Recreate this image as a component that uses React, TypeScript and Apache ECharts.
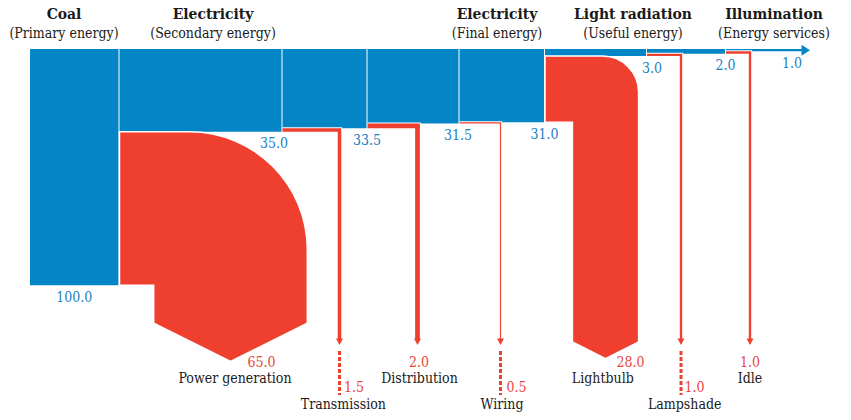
import React, { useEffect, useRef } from 'react';
import * as echarts from 'echarts';

// ---- data ----
const stageTitles = ['Coal', 'Electricity', 'Electricity', 'Light radiation', 'Illumination'];
const stageSubtitles = ['(Primary energy)', '(Secondary energy)', '(Final energy)', '(Useful energy)', '(Energy services)'];
const remaining = [100, 35, 33.5, 31.5, 31, 3, 2, 1];
const lossNames = ['Power generation', 'Transmission', 'Distribution', 'Wiring', 'Lightbulb', 'Lampshade', 'Idle'];
const lossValues = [65, 1.5, 2, 0.5, 28, 1, 1];

// ---- layout (x axis = horizontal layout units, y axis = energy units) ----
const W = 851;
const H = 420;
const Y_MAX = 157;
const bounds = [30, 119, 282, 367, 459, 544.5, 646.5, 725.5, 803];
const blueLabelDx = [0, -8, 0, -1, 0, 5.5, 0, -11];
const lossCenters = [230.5, 339.5, 417.5, 500.5, 605.5, 681, 750];
const lossCornerRadius = [118, 0, 0, 0, 36, 0, 0];
const lossShapeEnd = [116, 0, 0, 0, 124, 0, 0];
const lossRow = [0, 1, 0, 1, 0, 1, 0];
const lossValueDx = [31, 14.5, 1.5, 16, 25, 13.5, 0];
const lossNameDx = [4.5, 3.8, 2, 1.5, -2.7, 3.7, 0];
const headerX = [64, 213, 497, 633, 774];
const ARROW_TIP_V = 125.3;
const DASH_TOP_V = 127.8;
const DASH_BOTTOM_V = 146.4;
const ROW_VALUE_V = [132.6, 143.1];
const ROW_NAME_V = [139.3, 150.3];

const BLUE = '#0385C6';
const RED = '#EF3F2E';
const BLUE_TEXT = '#1C80C3';
const RED_TEXT = '#E9453B';
const BLACK_TEXT = '#1a1a1a';
const FONT = 'DejaVu Serif Condensed';

function txt(x: number, y: number, text: string, fill: string, size: number, weight: string = 'normal', family: string = FONT) {
  return {
    type: 'text',
    x,
    y,
    style: {
      text,
      fill,
      fontSize: size,
      fontWeight: weight,
      fontFamily: family,
      align: 'center',
      verticalAlign: 'middle',
      textAlign: 'center',
      textVerticalAlign: 'middle',
    },
  };
}

const renderBox = (_params: any, api: any) => {
  const i = api.value(0) as number;
  const v = api.value(1) as number;
  const last = i === remaining.length - 1;
  const [xa, y0] = api.coord([bounds[i], 0]);
  const [xb, y1] = api.coord([bounds[i + 1], v]);
  const x0 = xa + (i === 0 ? 0 : 0.5);
  const x1 = xb - (last ? 0 : 0.5);
  const children: any[] = [
    { type: 'rect', shape: { x: x0, y: y0, width: x1 - x0, height: y1 - y0 }, style: { fill: BLUE } },
  ];
  if (last) {
    const ym = (y0 + y1) / 2;
    children.push({
      type: 'polygon',
      shape: { points: [[x1 - 1.5, ym - 5.5], [x1 + 7, ym], [x1 - 1.5, ym + 5.5]] },
      style: { fill: BLUE },
    });
  }
  const lx = i === 0 ? (x0 + x1) / 2 : xb + blueLabelDx[i];
  children.push(txt(lx, y1 + 11.5, v.toFixed(1), BLUE_TEXT, 14));
  return { type: 'group', children };
};

const renderLoss = (_params: any, api: any) => {
  const i = api.value(0) as number;
  const v = api.value(1) as number;
  const xs = api.coord([bounds[i + 1], 0])[0] + 0.5;
  const yT = api.coord([0, remaining[i + 1]])[1];
  const yB = api.coord([0, remaining[i]])[1];
  const w = yB - yT;
  const cx = api.coord([lossCenters[i], 0])[0];
  const children: any[] = [];
  const r = lossCornerRadius[i];
  if (r > 0) {
    const xL = cx - w / 2;
    const xR = cx + w / 2;
    const yEnd = api.coord([0, lossShapeEnd[i]])[1];
    const k = 0.5523 * r;
    const d =
      `M${xs},${yT} L${xR - r},${yT} C${xR - r + k},${yT} ${xR},${yT + r - k} ${xR},${yT + r} ` +
      `L${xR},${yEnd} L${cx},${yEnd + w / 4} L${xL},${yEnd} L${xL},${yB} L${xs},${yB} Z`;
    children.push({ type: 'path', shape: { pathData: d }, style: { fill: RED, stroke: '#ffffff', lineWidth: 1.5 } });
  } else {
    const yM = (yT + yB) / 2;
    const tip = api.coord([0, ARROW_TIP_V])[1];
    const pts = [[xs, yM], [cx, yM], [cx, tip - 6]];
    children.push({ type: 'polyline', shape: { points: pts }, style: { stroke: '#ffffff', lineWidth: w + 2, fill: null, lineJoin: 'miter' } });
    children.push({ type: 'polyline', shape: { points: pts }, style: { stroke: RED, lineWidth: w, fill: null, lineJoin: 'miter' } });
    children.push({
      type: 'polygon',
      shape: { points: [[cx - 3.5, tip - 6.5], [cx + 3.5, tip - 6.5], [cx, tip]] },
      style: { fill: RED },
    });
  }
  const row = lossRow[i];
  if (row === 1) {
    const yd0 = api.coord([0, DASH_TOP_V])[1];
    const yd1 = api.coord([0, DASH_BOTTOM_V])[1];
    children.push({
      type: 'line',
      shape: { x1: cx, y1: yd0, x2: cx, y2: yd1 },
      style: { stroke: RED, lineWidth: 3, lineDash: [4, 2] },
    });
  }
  const yv = api.coord([0, ROW_VALUE_V[row]])[1];
  const yn = api.coord([0, ROW_NAME_V[row]])[1];
  children.push(txt(cx + lossValueDx[i], yv, v.toFixed(1), RED_TEXT, 14));
  children.push(txt(cx + lossNameDx[i], yn, lossNames[i], BLACK_TEXT, 14));
  return { type: 'group', children };
};

export default function App() {
  const ref = useRef<HTMLDivElement>(null);
  useEffect(() => {
    if (!ref.current) return;
    const chart = echarts.init(ref.current, undefined, { renderer: 'svg' });
    const headers: any[] = [];
    stageTitles.forEach((t, i) => {
      headers.push(txt(headerX[i], 13, t, BLACK_TEXT, 15.5, 'bold'));
      headers.push(txt(headerX[i], 33, stageSubtitles[i], BLACK_TEXT, 14));
    });
    chart.setOption({
      animation: false,
      backgroundColor: '#ffffff',
      grid: { left: 0, right: 0, top: 49, bottom: 0 },
      xAxis: { type: 'value', min: 0, max: W, show: false },
      yAxis: { type: 'value', min: 0, max: Y_MAX, inverse: true, show: false },
      graphic: { elements: headers },
      series: [
        {
          type: 'custom',
          name: 'Energy flow',
          data: remaining.map((v, i) => [i, v]),
          renderItem: renderBox,
          clip: false,
          silent: true,
          z: 2,
        },
        {
          type: 'custom',
          name: 'Losses',
          data: lossValues.map((v, i) => [i, v]),
          renderItem: renderLoss,
          clip: false,
          silent: true,
          z: 3,
        },
      ],
    });
    return () => chart.dispose();
  }, []);
  return <div ref={ref} style={{ position: 'fixed', left: 0, top: 0, width: W, height: H }} />;
}
